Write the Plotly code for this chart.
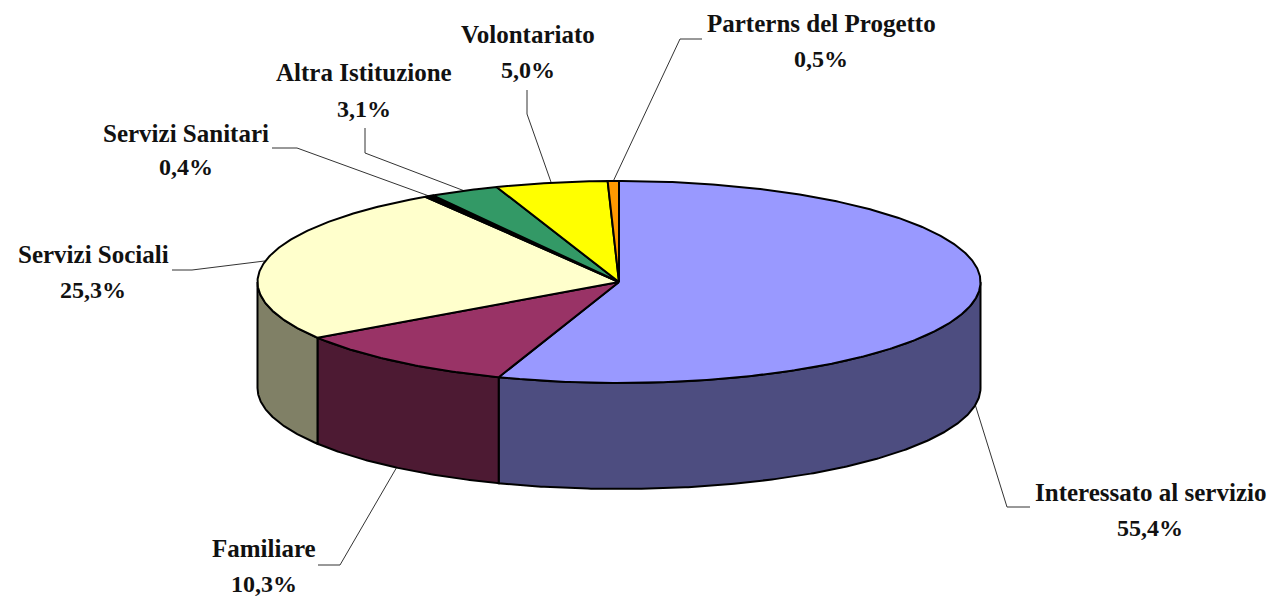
import numpy as np
import plotly.graph_objects as go

categories = ["Interessato al servizio", "Familiare", "Servizi Sociali", "Servizi Sanitari",
              "Altra Istituzione", "Volontariato", "Parterns del Progetto"]
values = [55.4, 10.3, 25.3, 0.4, 3.1, 5.0, 0.5]
top_colors = ["#9999FF", "#993366", "#FFFFCC", "#000000", "#339966", "#FFFF00", "#FF9900"]
wall_colors = ["#4D4D80", "#4D1A33", "#808066", "#000000", "#1A4D33", "#808000", "#804D00"]

# pie geometry in page pixels
CX, CY, RX, RY, DEPTH = 619.0, 282.0, 361.5, 101.0, 106.0


def edge(deg, drop=0.0):
    """Point on the rim, angle measured clockwise from 12 o'clock."""
    t = np.radians(deg)
    return CX + RX * np.sin(t), CY - RY * np.cos(t) + drop


def arc(a, b, drop=0.0):
    d = np.linspace(a, b, max(2, int(abs(b - a) * 2) + 2))
    return edge(d, drop)


total = sum(values)
bounds = np.cumsum([0] + values) / total * 360.0
mids = (bounds[:-1] + bounds[1:]) / 2

fig = go.Figure()

# leader lines: [elbow, end] per category, the start is the slice's rim midpoint
leader_bends = [
    [(1007, 507), (1030, 507)],
    [(340, 565), (318, 565)],
    [(192, 270), (172, 270)],
    [(297, 148), (272, 148)],
    [(365, 153), (365, 128)],
    [(527, 114), (527, 90)],
    [(680, 39), (702, 39)],
]
for i, bend in enumerate(leader_bends):
    on_wall = 90 <= mids[i] <= 270
    sx, sy = edge(mids[i], DEPTH if on_wall else 0.0)
    fig.add_trace(go.Scatter(
        x=[float(sx)] + [p[0] for p in bend],
        y=[float(sy)] + [p[1] for p in bend],
        mode="lines", line=dict(color="#333333", width=1),
        hoverinfo="skip", showlegend=False))

# outer walls (only the front half is visible)
for i in range(len(values)):
    a, b = max(bounds[i], 90.0), min(bounds[i + 1], 270.0)
    if b <= a:
        continue
    tx, ty = arc(a, b)
    bx, by = arc(a, b, DEPTH)
    fig.add_trace(go.Scatter(
        x=np.concatenate([tx, bx[::-1], tx[:1]]),
        y=np.concatenate([ty, by[::-1], ty[:1]]),
        mode="lines", fill="toself", fillcolor=wall_colors[i],
        line=dict(color="#000000", width=2),
        hoverinfo="skip", showlegend=False))

# top faces
for i in range(len(values)):
    tx, ty = arc(bounds[i], bounds[i + 1])
    fig.add_trace(go.Scatter(
        x=np.concatenate([[CX], tx, [CX]]),
        y=np.concatenate([[CY], ty, [CY]]),
        mode="lines", fill="toself", fillcolor=top_colors[i],
        line=dict(color="#000000", width=2),
        hoverinfo="skip", showlegend=False, name=categories[i]))

# label placement: centre x, name line y, value line y
label_pos = [
    (1150, 492, 528),
    (264, 548, 584),
    (93, 254, 290),
    (186, 133, 167),
    (364, 72, 109),
    (528, 34, 70),
    (821, 23, 59),
]
NAME_FONT = dict(family="Liberation Serif", size=25, color="#111111")
PCT_FONT = dict(family="Liberation Serif", size=24, color="#111111")
for name, v, (x, y1, y2) in zip(categories, values, label_pos):
    pct = f"{v:.1f}".replace(".", ",") + "%"
    fig.add_annotation(x=x, y=y1, text=f"<b>{name}</b>", showarrow=False, font=NAME_FONT,
                       xanchor="center", yanchor="middle")
    fig.add_annotation(x=x, y=y2, text=f"<b>{pct}</b>", showarrow=False, font=PCT_FONT,
                       xanchor="center", yanchor="middle")

fig.update_layout(
    width=1272, height=598, margin=dict(l=0, r=0, t=0, b=0),
    paper_bgcolor="white", plot_bgcolor="white", showlegend=False,
    xaxis=dict(range=[0, 1272], visible=False, fixedrange=True),
    yaxis=dict(range=[598, 0], visible=False, fixedrange=True),
)
fig.write_html("out.html", config={"displayModeBar": False},
               post_script="document.body.style.margin='0';document.body.style.overflow='hidden';")
